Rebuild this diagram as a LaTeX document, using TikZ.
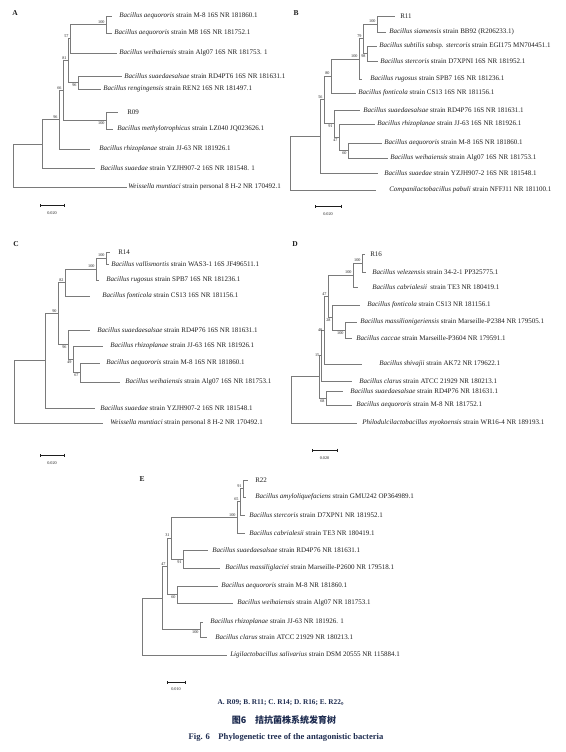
\documentclass[tikz,border=0pt]{standalone}
\usepackage{fontspec}
\setmainfont{Liberation Serif}
\newfontfamily\cjk{Noto Sans CJK SC}
\usepackage{xcolor}
\definecolor{ink}{HTML}{1E1E1E}
\definecolor{twig}{HTML}{7A7A7A}
\definecolor{capink}{HTML}{1D2B4F}
\usetikzlibrary{arrows.meta}
\newcommand\leaffont{\fontsize{7}{8}\selectfont}
\newcommand\bootfont{\fontsize{4.2}{5}\selectfont}
\newcommand\spn[1]{\textit{#1}}
\tikzset{
  every picture/.style={line width=0.6pt},
  branch/.style={draw=twig, line width=0.7pt},
  leaf/.style={anchor=west, inner sep=0pt, font=\leaffont, text=ink},
  bootup/.style={anchor=south east, inner sep=0.6pt, xshift=-0.6pt, yshift=0.4pt, font=\bootfont, text=ink},
  bootdn/.style={anchor=north east, inner sep=0.6pt, xshift=-0.6pt, yshift=-0.4pt, font=\bootfont, text=ink},
  bootmid/.style={anchor=east, inner sep=0.6pt, xshift=-0.8pt, font=\bootfont, text=ink},
  panel/.style={font=\bfseries\fontsize{7.5}{9}\selectfont, text=ink, inner sep=0pt},
  scalebar/.style={draw=ink, line width=0.5pt, {Bar[width=3pt]}-{Bar[width=3pt]}},
  scaletext/.style={font=\bootfont, text=ink, inner sep=0pt},
  caption/.style={text=capink, inner sep=0pt},
}

\begin{document}
\begin{tikzpicture}[x=1pt, y=-1pt]
  \useasboundingbox (0,0) rectangle (565,752);

  % A
  \node[panel] (pA) at (15,13) {A};
  \coordinate (a1) at (112,16);  \coordinate (a2) at (112,33);
  \coordinate (a3) at (117,53);  \coordinate (a4) at (122,76);
  \coordinate (a5) at (101,89);  \coordinate (a6) at (118,112);
  \coordinate (a7) at (113,129); \coordinate (a8) at (90,149);
  \coordinate (a9) at (95,168);  \coordinate (a10) at (127,187);
  \coordinate (aM100) at (106,24.5);  \coordinate (aM57) at (70,38.8);
  \coordinate (aM96) at (78,82.5);    \coordinate (aM81) at (68,60.6);
  \coordinate (aM100b) at (106,120.5); \coordinate (aM66) at (63,90.6);
  \coordinate (aM96b) at (59,119.8);  \coordinate (aMs) at (42,143.9);
  \coordinate (aR) at (13,165.5);
  \foreach \p/\c in {aM100/a1, aM100/a2, aM57/aM100, aM57/a3, aM96/a4, aM96/a5,
    aM81/aM57, aM81/aM96, aM100b/a6, aM100b/a7, aM66/aM81, aM66/aM100b,
    aM96b/aM66, aM96b/a8, aMs/aM96b, aMs/a9, aR/aMs, aR/a10}
    \draw[branch] (\p) |- (\c);
  \node[leaf] (ta1) at (119,16) {\spn{Bacillus aequororis} strain M-8 16S NR 181860.1};
  \node[leaf] (ta2) at (114,33) {\spn{Bacillus aequororis} strain M8 16S NR 181752.1};
  \node[leaf] (ta3) at (119,53) {\spn{Bacillus weihaiensis} strain Alg07 16S NR 181753. 1};
  \node[leaf] (ta4) at (124,76) {\spn{Bacillus suaedaesalsae} strain RD4PT6 16S NR 181631.1};
  \node[leaf] (ta5) at (103,89) {\spn{Bacillus rengingensis} strain REN2 16S NR 181497.1};
  \node[leaf] (ta6) at (127,112) {R09};
  \node[leaf] (ta7) at (117,129) {\spn{Bacillus methylotrophicus} strain LZ040 JQ023626.1};
  \node[leaf] (ta8) at (99,149) {\spn{Bacillus rhizoplanae} strain JJ-63 NR 181926.1};
  \node[leaf] (ta9) at (100,168) {\spn{Bacillus suaedae} strain YZJH907-2 16S NR 181548. 1};
  \node[leaf] (ta10) at (128,187) {\spn{Weissella muntiaci} strain personal 8 H-2 NR 170492.1};
  \node[bootup] at (aM100) {100};
  \node[bootup] at (aM57) {57};
  \node[bootdn] at (aM96) {96};
  \node[bootup] at (aM81) {81};
  \node[bootdn] at (aM100b) {100};
  \node[bootup] at (aM66) {66};
  \node[bootup] at (aM96b) {96};
  \coordinate (sA0) at (40,205); \coordinate (sA1) at (64,205);
  \draw[scalebar] (sA0) -- (sA1);
  \node[scaletext] (lsA) at (52,213) {0.020};

  % B
  \node[panel] (pB) at (296,13) {B};
  \coordinate (b1) at (395,16);  \coordinate (b2) at (386,32);
  \coordinate (b3) at (377,46);  \coordinate (b4) at (378,61);
  \coordinate (b5) at (362,79);  \coordinate (b6) at (356,93);
  \coordinate (b7) at (360,110); \coordinate (b8) at (375,124);
  \coordinate (b9) at (382,143); \coordinate (b10) at (388,158);
  \coordinate (b11) at (378,173); \coordinate (b12) at (376,190);
  \coordinate (bM100) at (377,24);   \coordinate (bM98) at (367,53.5);
  \coordinate (bM79) at (363,38.8);  \coordinate (bM100b) at (359,58.9);
  \coordinate (bM80) at (331,76);    \coordinate (bM60) at (348,150.5);
  \coordinate (bM47) at (339,137.3); \coordinate (bM91) at (334,123.6);
  \coordinate (bM56) at (324,99.8);  \coordinate (bMs) at (320,136.4);
  \coordinate (bR) at (290,163);
  \foreach \p/\c in {bM100/b1, bM100/b2, bM98/b3, bM98/b4, bM79/bM100, bM79/bM98,
    bM100b/bM79, bM100b/b5, bM80/bM100b, bM80/b6, bM60/b9, bM60/b10,
    bM47/b8, bM47/bM60, bM91/b7, bM91/bM47, bM56/bM80, bM56/bM91,
    bMs/bM56, bMs/b11, bR/bMs, bR/b12}
    \draw[branch] (\p) |- (\c);
  \node[leaf] (tb1) at (400,16) {R11};
  \node[leaf] (tb2) at (389,32) {\spn{Bacillus siamensis} strain BB92 (R206233.1)};
  \node[leaf] (tb3) at (379,46) {\spn{Bacillus subtilis} subsp. \spn{stercoris} strain EGI175 MN704451.1};
  \node[leaf] (tb4) at (380,61) {\spn{Bacillus stercoris} strain D7XPNI 16S NR 181952.1};
  \node[leaf] (tb5) at (370,79) {\spn{Bacillus rugosus} strain SPB7 16S NR 181236.1};
  \node[leaf] (tb6) at (358,93) {\spn{Bacillus fonticola} strain CS13 16S NR 181156.1};
  \node[leaf] (tb7) at (363,110) {\spn{Bacillus suaedaesalsae} strain RD4P76 16S NR 181631.1};
  \node[leaf] (tb8) at (377,124) {\spn{Bacillus rhizoplanae} strain JJ-63 16S NR 181926.1};
  \node[leaf] (tb9) at (384,143) {\spn{Bacillus aequororis} strain M-8 16S NR 181860.1};
  \node[leaf] (tb10) at (390,158) {\spn{Bacillus weihaiensis} strain Alg07 16S NR 181753.1};
  \node[leaf] (tb11) at (384,173) {\spn{Bacillus suaedae} strain YZJH907-2 16S NR 181548.1};
  \node[leaf] (tb12) at (389,190) {\spn{Companilactobacillus pabuli} strain NFFJ11 NR 181100.1};
  \node[bootup] at (bM100) {100};
  \node[bootdn] at (bM98) {98};
  \node[bootup] at (bM79) {79};
  \node[bootup] at (bM100b) {100};
  \node[bootup] at (bM80) {80};
  \node[bootup] at (bM56) {56};
  \node[bootdn] at (bM91) {91};
  \node[bootdn] at (bM47) {47};
  \node[bootdn] at (bM60) {60};
  \coordinate (sB0) at (315,206); \coordinate (sB1) at (341,206);
  \draw[scalebar] (sB0) -- (sB1);
  \node[scaletext] (lsB) at (328,214) {0.020};

  % C
  \node[panel] (pC) at (16,244) {C};
  \coordinate (c1) at (110,252);  \coordinate (c2) at (109,264);
  \coordinate (c3) at (99,280);   \coordinate (c4) at (90,296);
  \coordinate (c5) at (90,330);   \coordinate (c6) at (103,346);
  \coordinate (c7) at (100,363);  \coordinate (c8) at (120,382);
  \coordinate (c9) at (95,408);   \coordinate (c10) at (103,423);
  \coordinate (cM100) at (106,258);  \coordinate (cM100b) at (96,269);
  \coordinate (cM82) at (65,282.5);  \coordinate (cM67) at (80,372.5);
  \coordinate (cM49) at (73,359.3);  \coordinate (cM96) at (68,344.6);
  \coordinate (cM90) at (58,313.6);  \coordinate (cMs) at (45,360.8);
  \coordinate (cR) at (14,392);
  \foreach \p/\c in {cM100/c1, cM100/c2, cM100b/cM100, cM100b/c3, cM82/cM100b, cM82/c4,
    cM67/c7, cM67/c8, cM49/c6, cM49/cM67, cM96/c5, cM96/cM49,
    cM90/cM82, cM90/cM96, cMs/cM90, cMs/c9, cR/cMs, cR/c10}
    \draw[branch] (\p) |- (\c);
  \node[leaf] (tc1) at (118,252) {R14};
  \node[leaf] (tc2) at (111,264) {\spn{Bacillus vallismortis} strain WAS3-1 16S JF496511.1};
  \node[leaf] (tc3) at (106,280) {\spn{Bacillus rugosus} strain SPB7 16S NR 181236.1};
  \node[leaf] (tc4) at (102,296) {\spn{Bacillus fonticola} strain CS13 16S NR 181156.1};
  \node[leaf] (tc5) at (97,330) {\spn{Bacillus suaedaesalsae} strain RD4P76 16S NR 181631.1};
  \node[leaf] (tc6) at (110,346) {\spn{Bacillus rhizoplanae} strain JJ-63 16S NR 181926.1};
  \node[leaf] (tc7) at (106,363) {\spn{Bacillus aequororis} strain M-8 16S NR 181860.1};
  \node[leaf] (tc8) at (125,382) {\spn{Bacillus weihaiensis} strain Alg07 16S NR 181753.1};
  \node[leaf] (tc9) at (100,408) {\spn{Bacillus suaedae} strain YZJH907-2 16S NR 181548.1};
  \node[leaf] (tc10) at (110,423) {\spn{Weissella muntiaci} strain personal 8 H-2 NR 170492.1};
  \node[bootup] at (cM100) {100};
  \node[bootup] at (cM100b) {100};
  \node[bootup] at (cM82) {82};
  \node[bootup] at (cM90) {90};
  \node[bootdn] at (cM96) {96};
  \node[bootdn] at (cM49) {49};
  \node[bootdn] at (cM67) {67};
  \coordinate (sC0) at (40,455); \coordinate (sC1) at (64,455);
  \draw[scalebar] (sC0) -- (sC1);
  \node[scaletext] (lsC) at (52,463) {0.020};

  % D
  \node[panel] (pD) at (295,244) {D};
  \coordinate (d1) at (365,254);  \coordinate (d2) at (366,272);
  \coordinate (d3) at (358,287);  \coordinate (d4) at (360,305);
  \coordinate (d5) at (357,322);  \coordinate (d6) at (352,338);
  \coordinate (d7) at (362,364);  \coordinate (d8) at (352,381);
  \coordinate (d9) at (343,391);  \coordinate (d10) at (352,405);
  \coordinate (d11) at (357,423);
  \coordinate (dM100) at (362,263);  \coordinate (dM100b) at (353,275);
  \coordinate (dM100c) at (345,330); \coordinate (dM28) at (332,317.5);
  \coordinate (dM47) at (328,296.3); \coordinate (dM40) at (324,330.1);
  \coordinate (dM15) at (321,355.6); \coordinate (dM68) at (326,398);
  \coordinate (dMs) at (319,376.8);  \coordinate (dR) at (291,399.9);
  \foreach \p/\c in {dM100/d1, dM100/d2, dM100b/dM100, dM100b/d3,
    dM100c/d5, dM100c/d6, dM28/d4, dM28/dM100c, dM47/dM100b, dM47/dM28,
    dM40/dM47, dM40/d7, dM15/dM40, dM15/d8, dM68/d9, dM68/d10,
    dMs/dM15, dMs/dM68, dR/dMs, dR/d11}
    \draw[branch] (\p) |- (\c);
  \node[leaf] (td1) at (370,254) {R16};
  \node[leaf] (td2) at (372,272) {\spn{Bacillus velezensis} strain 34-2-1 PP325775.1};
  \node[leaf] (td3) at (372,287) {\spn{Bacillus cabrialesii}\ \ strain TE3 NR 180419.1};
  \node[leaf] (td4) at (367,305) {\spn{Bacillus fonticola} strain CS13 NR 181156.1};
  \node[leaf] (td5) at (360,322) {\spn{Bacillus massilionigeriensis} strain Marseille-P2384 NR 179505.1};
  \node[leaf] (td6) at (356,338) {\spn{Bacillus caccae} strain Marseille-P3604 NR 179591.1};
  \node[leaf] (td7) at (379,364) {\spn{Bacillus shivajii} strain AK72 NR 179622.1};
  \node[leaf] (td8) at (359,381) {\spn{Bacillus clarus} strain ATCC 21929 NR 180213.1};
  \node[leaf] (td9) at (350,391) {\spn{Bacillus suaedaesalsae} strain RD4P76 NR 181631.1};
  \node[leaf] (td10) at (356,405) {\spn{Bacillus aequororis} strain M-8 NR 181752.1};
  \node[leaf] (td11) at (362,423) {\spn{Philodulcilactobacillus myokoensis} strain WR16-4 NR 189193.1};
  \node[bootup] at (dM100) {100};
  \node[bootup] at (dM100b) {100};
  \node[bootup] at (dM47) {47};
  \node[bootdn] at (dM28) {28};
  \node[bootdn] at (dM100c) {100};
  \node[bootmid] at (dM40) {40};
  \node[bootmid] at (dM15) {15};
  \node[bootdn] at (dM68) {68};
  \coordinate (sD0) at (312,450); \coordinate (sD1) at (337,450);
  \draw[scalebar] (sD0) -- (sD1);
  \node[scaletext] (lsD) at (324.5,458) {0.020};

  % E
  \node[panel] (pE) at (142,479) {E};
  \coordinate (e1) at (248,480);  \coordinate (e2) at (246,497);
  \coordinate (e3) at (245,515);  \coordinate (e4) at (245,533);
  \coordinate (e5) at (208,550);  \coordinate (e6) at (220,568);
  \coordinate (e7) at (218,586);  \coordinate (e8) at (233,603);
  \coordinate (e9) at (203,622);  \coordinate (e10) at (207,637);
  \coordinate (e11) at (227,655);
  \coordinate (eM91) at (243,488.5);  \coordinate (eM65) at (240,501.8);
  \coordinate (eM100) at (237,517.4); \coordinate (eM91b) at (183,559);
  \coordinate (eM31) at (171,538.2);  \coordinate (eM60) at (177,594.5);
  \coordinate (eM47) at (167,566.4);  \coordinate (eM100b) at (200,629.5);
  \coordinate (eMs) at (162,597.9);   \coordinate (eR) at (142,626.5);
  \foreach \p/\c in {eM91/e1, eM91/e2, eM65/eM91, eM65/e3, eM100/eM65, eM100/e4,
    eM91b/e5, eM91b/e6, eM31/eM100, eM31/eM91b, eM60/e7, eM60/e8,
    eM47/eM31, eM47/eM60, eM100b/e9, eM100b/e10, eMs/eM47, eMs/eM100b,
    eR/eMs, eR/e11}
    \draw[branch] (\p) |- (\c);
  \node[leaf] (te1) at (255,480) {R22};
  \node[leaf] (te2) at (255,497) {\spn{Bacillus amyloliquefaciens} strain GMU242 OP364989.1};
  \node[leaf] (te3) at (249,515) {\spn{Bacillus stercoris} strain D7XPN1 NR 181952.1};
  \node[leaf] (te4) at (249,533) {\spn{Bacillus cabrialesii} strain TE3 NR 180419.1};
  \node[leaf] (te5) at (212,550) {\spn{Bacillus suaedaesalsae} strain RD4P76 NR 181631.1};
  \node[leaf] (te6) at (225,568) {\spn{Bacillus massiliglaciei} strain Marseille-P2600 NR 179518.1};
  \node[leaf] (te7) at (221,586) {\spn{Bacillus aequororis} strain M-8 NR 181860.1};
  \node[leaf] (te8) at (237,603) {\spn{Bacillus weihaiensis} strain Alg07 NR 181753.1};
  \node[leaf] (te9) at (210,622) {\spn{Bacillus rhizoplanae} strain JJ-63 NR 181926. 1};
  \node[leaf] (te10) at (215,637) {\spn{Bacillus clarus} strain ATCC 21929 NR 180213.1};
  \node[leaf] (te11) at (230,655) {\spn{Ligilactobacillus salivarius} strain DSM 20555 NR 115884.1};
  \node[bootup] at (eM91) {91};
  \node[bootup] at (eM65) {65};
  \node[bootup] at (eM100) {100};
  \node[bootup] at (eM31) {31};
  \node[bootup] at (eM47) {47};
  \node[bootdn] at (eM91b) {91};
  \node[bootdn] at (eM60) {60};
  \node[bootdn] at (eM100b) {100};
  \coordinate (sE0) at (167,682); \coordinate (sE1) at (185,682);
  \draw[scalebar] (sE0) -- (sE1);
  \node[scaletext] (lsE) at (176,689) {0.010};

  \node[caption, font=\bfseries\fontsize{7.3}{9}\selectfont] (cap1) at (283,703)
    {A. R09; B. R11; C. R14; D. R16; E. R22{\cjk 。}};
  \node[caption, font=\cjk\bfseries\fontsize{9}{11}\selectfont] (cap2) at (284,720)
    {图6\quad 拮抗菌株系统发育树};
  \node[caption, font=\bfseries\fontsize{8.6}{10}\selectfont] (cap3) at (286,737)
    {Fig. 6\quad Phylogenetic tree of the antagonistic bacteria};
\end{tikzpicture}
\end{document}
